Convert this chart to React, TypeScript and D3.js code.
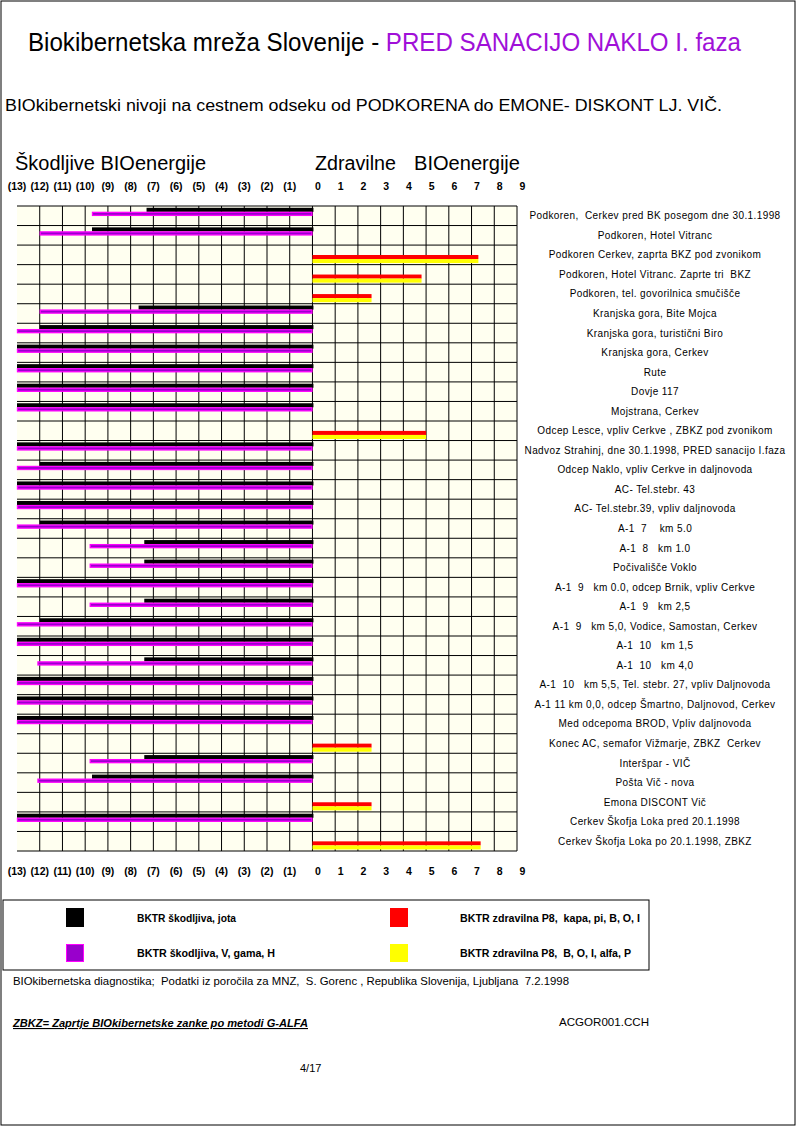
import React from "react";
import * as d3 from "d3";

const categories = [
  "Podkoren,  Cerkev pred BK posegom dne 30.1.1998",
  "Podkoren, Hotel Vitranc",
  "Podkoren Cerkev, zaprta BKZ pod zvonikom",
  "Podkoren, Hotel Vitranc. Zaprte tri  BKZ",
  "Podkoren, tel. govorilnica smučišče",
  "Kranjska gora, Bite Mojca",
  "Kranjska gora, turistični Biro",
  "Kranjska gora, Cerkev",
  "Rute",
  "Dovje 117",
  "Mojstrana, Cerkev",
  "Odcep Lesce, vpliv Cerkve , ZBKZ pod zvonikom",
  "Nadvoz Strahinj, dne 30.1.1998, PRED sanacijo I.faza",
  "Odcep Naklo, vpliv Cerkve in daljnovoda",
  "AC- Tel.stebr. 43",
  "AC- Tel.stebr.39, vpliv daljnovoda",
  "A-1  7    km 5.0",
  "A-1  8   km 1.0",
  "Počivališče Voklo",
  "A-1  9   km 0.0, odcep Brnik, vpliv Cerkve",
  "A-1  9   km 2,5",
  "A-1  9   km 5,0, Vodice, Samostan, Cerkev",
  "A-1  10   km 1,5",
  "A-1  10   km 4,0",
  "A-1  10   km 5,5, Tel. stebr. 27, vpliv Daljnovoda",
  "A-1 11 km 0,0, odcep Šmartno, Daljnovod, Cerkev",
  "Med odcepoma BROD, Vpliv daljnovoda",
  "Konec AC, semafor Vižmarje, ZBKZ  Cerkev",
  "Interšpar - VIČ",
  "Pošta Vič - nova",
  "Emona DISCONT Vič",
  "Cerkev Škofja Loka pred 20.1.1998",
  "Cerkev Škofja Loka po 20.1.1998, ZBKZ",
];

// BKTR škodljiva, jota (black)
const jota = [
  -7.3, -9.7, 0, 0, 0, -7.65, -12, -13, -13, -13, -13, 0, -13, -12, -13, -13,
  -12, -7.4, -7.4, -13, -7.4, -12, -13, -7.4, -13, -13, -13, 0, -7.4, -9.7, 0,
  -13, 0,
];
// BKTR škodljiva, V, gama, H (purple)
const gama = [
  -9.7, -12, 0, 0, 0, -12, -13, -13, -13, -13, -13, 0, -13, -13, -13, -13,
  -13, -9.8, -9.8, -13, -9.8, -13, -13, -12.1, -13, -13, -13, 0, -9.8, -12.1, 0,
  -13, 0,
];
// BKTR zdravilna P8, kapa, pi, B, O, I (red)
const kapa = [
  0, 0, 7.3, 4.8, 2.6, 0, 0, 0, 0, 0, 0, 5.0, 0, 0, 0, 0, 0, 0, 0, 0, 0, 0, 0,
  0, 0, 0, 0, 2.6, 0, 0, 2.6, 0, 7.4,
];
// BKTR zdravilna P8, B, O, I, alfa, P (yellow)
const alfa = [
  0, 0, 7.3, 4.8, 2.6, 0, 0, 0, 0, 0, 0, 5.0, 0, 0, 0, 0, 0, 0, 0, 0, 0, 0, 0,
  0, 0, 0, 0, 2.6, 0, 0, 2.6, 0, 7.4,
];

const tickValues = [-13, -12, -11, -10, -9, -8, -7, -6, -5, -4, -3, -2, -1, 0, 1, 2, 3, 4, 5, 6, 7, 8, 9];
const tickLabels = ["(13)", "(12)", "(11)", "(10)", "(9)", "(8)", "(7)", "(6)", "(5)", "(4)", "(3)", "(2)", "(1)", "0", "1", "2", "3", "4", "5", "6", "7", "8", "9"];

const seriesKeys = ["jota", "gama", "kapa", "alfa"];
const seriesNames = [
  "BKTR škodljiva, jota",
  "BKTR škodljiva, V, gama, H",
  "BKTR zdravilna P8,  kapa, pi, B, O, I",
  "BKTR zdravilna P8,  B, O, I, alfa, P",
];

const FONT = "'Liberation Sans', Arial, Helvetica, sans-serif";
const NARROW = "'Liberation Sans Narrow', 'Liberation Sans', Arial, sans-serif";

export default function App() {
  const W = 797;
  const H = 1126;
  const x = d3.scaleLinear().domain([-13, 9]).range([17, 517]);
  const y = d3.scaleBand<string>().domain(categories).range([206, 851]).padding(0);
  const sub = d3.scaleBand<string>().domain(seriesKeys).range([1.8, 18]).padding(0);
  const bw = sub.bandwidth();
  const seriesData: Record<string, number[]> = { jota, gama, kapa, alfa };

  const bars: React.ReactNode[] = [];
  categories.forEach((c, i) => {
    seriesKeys.forEach((k) => {
      const v = seriesData[k][i];
      if (!v) return;
      const x0 = x(Math.min(0, v));
      const w = Math.abs(x(v) - x(0));
      const yy = (y(c) as number) + (sub(k) as number);
      if (k === "jota") {
        bars.push(<rect key={c + k} x={x0} y={yy} width={w + 1} height={bw} fill="#000" />);
      } else if (k === "gama") {
        bars.push(
          <rect key={c + k} x={x0 + 0.5} y={yy + 0.5} width={w - 1} height={bw - 1} fill="#9900cc" stroke="#ff00ff" strokeWidth={1.3} />
        );
      } else {
        bars.push(<rect key={c + k} x={x0} y={yy} width={w} height={bw} fill={k === "kapa" ? "#ff0000" : "#ffff00"} />);
      }
    });
  });

  const rowEdges = categories.map((c) => y(c) as number).concat([851]);

  const tickX = (v: number) => x(v) + (v >= 0 ? 5.5 : 0);

  return (
    <svg width={W} height={H} style={{ position: "absolute", left: 0, top: 0, background: "#fff" }} fontFamily={FONT}>
      <rect x={1} y={1} width={794} height={1124} fill="#fff" stroke="#000" strokeWidth={1} />
      {/* Title */}
      <text x={28} y={51} fontSize={26} textLength={713} lengthAdjust="spacingAndGlyphs">
        <tspan fill="#000">Biokibernetska mreža Slovenije - </tspan>
        <tspan fill="#a010d8">PRED SANACIJO NAKLO I. faza</tspan>
      </text>
      <text x={5} y={111} fontSize={16} textLength={717} lengthAdjust="spacingAndGlyphs">
        BIOkibernetski nivoji na cestnem odseku od PODKORENA do EMONE- DISKONT LJ. VIČ.
      </text>
      <text x={15} y={170} fontSize={20} textLength={191} lengthAdjust="spacingAndGlyphs">Škodljive BIOenergije</text>
      <text x={315} y={170} fontSize={20} textLength={81} lengthAdjust="spacingAndGlyphs">Zdravilne</text>
      <text x={414} y={170} fontSize={20} textLength={106} lengthAdjust="spacingAndGlyphs">BIOenergije</text>

      {/* grid background */}
      <rect x={x(-13)} y={206} width={x(9) - x(-13)} height={851 - 206} fill="#fffff0" />
      {/* vertical grid */}
      {tickValues.slice(1).map((v) => (
        <line key={"v" + v} x1={x(v)} x2={x(v)} y1={206} y2={851} stroke="#000" strokeWidth={1} />
      ))}
      {rowEdges.map((e, i) => (
        <line key={"h" + i} x1={x(-13)} x2={x(9)} y1={e} y2={e} stroke="#000" strokeWidth={1} />
      ))}
      {bars}

      {/* tick labels top and bottom */}
      {tickValues.map((v, i) => (
        <g key={"t" + v}>
          <text x={tickX(v)} y={190} fontSize={10.5} fontWeight="bold" textAnchor="middle" fontFamily={NARROW}>
            {tickLabels[i]}
          </text>
          <text x={tickX(v)} y={875} fontSize={10.5} fontWeight="bold" textAnchor="middle" fontFamily={NARROW}>
            {tickLabels[i]}
          </text>
        </g>
      ))}

      {/* row labels */}
      {categories.map((c) => (
        <text key={"l" + c} x={655} y={(y(c) as number) + y.bandwidth() / 2 + 3.5} fontSize={10} letterSpacing={0.4} textAnchor="middle" style={{ whiteSpace: "pre" }}>
          {c}
        </text>
      ))}

      {/* legend */}
      <rect x={3} y={900} width={646} height={70} fill="none" stroke="#000" strokeWidth={1} />
      <rect x={66} y={908} width={18} height={19} fill="#000" />
      <rect x={66.5} y={944.5} width={17} height={17} fill="#9900cc" stroke="#ff00ff" strokeWidth={1} />
      <rect x={390} y={908} width={18} height={19} fill="#ff0000" />
      <rect x={390} y={944} width={18} height={18} fill="#ffff00" />
      <text x={137} y={921.5} fontSize={11} fontWeight="bold" fontFamily={NARROW} textLength={99} lengthAdjust="spacingAndGlyphs">{seriesNames[0]}</text>
      <text x={137} y={957} fontSize={11} fontWeight="bold" fontFamily={NARROW} textLength={138} lengthAdjust="spacingAndGlyphs">{seriesNames[1]}</text>
      <text x={460} y={921.5} fontSize={11} fontWeight="bold" fontFamily={NARROW} textLength={180} lengthAdjust="spacingAndGlyphs" style={{ whiteSpace: "pre" }}>{seriesNames[2]}</text>
      <text x={460} y={957} fontSize={11} fontWeight="bold" fontFamily={NARROW} textLength={171} lengthAdjust="spacingAndGlyphs" style={{ whiteSpace: "pre" }}>{seriesNames[3]}</text>

      {/* footer */}
      <text x={13} y={985} fontSize={11} fontFamily={NARROW} textLength={556} lengthAdjust="spacingAndGlyphs" style={{ whiteSpace: "pre" }}>
        BIOkibernetska diagnostika;  Podatki iz poročila za MNZ,  S. Gorenc , Republika Slovenija, Ljubljana  7.2.1998
      </text>
      <text x={13} y={1027} fontSize={11} fontWeight="bold" fontStyle="italic" textDecoration="underline" fontFamily={NARROW} textLength={295} lengthAdjust="spacingAndGlyphs">
        ZBKZ= Zaprtje BIOkibernetske zanke po metodi G-ALFA
      </text>
      <text x={559} y={1026} fontSize={11} fontFamily={NARROW} textLength={90} lengthAdjust="spacingAndGlyphs">ACGOR001.CCH</text>
      <text x={300} y={1072} fontSize={11} fontFamily={NARROW}>4/17</text>
    </svg>
  );
}
